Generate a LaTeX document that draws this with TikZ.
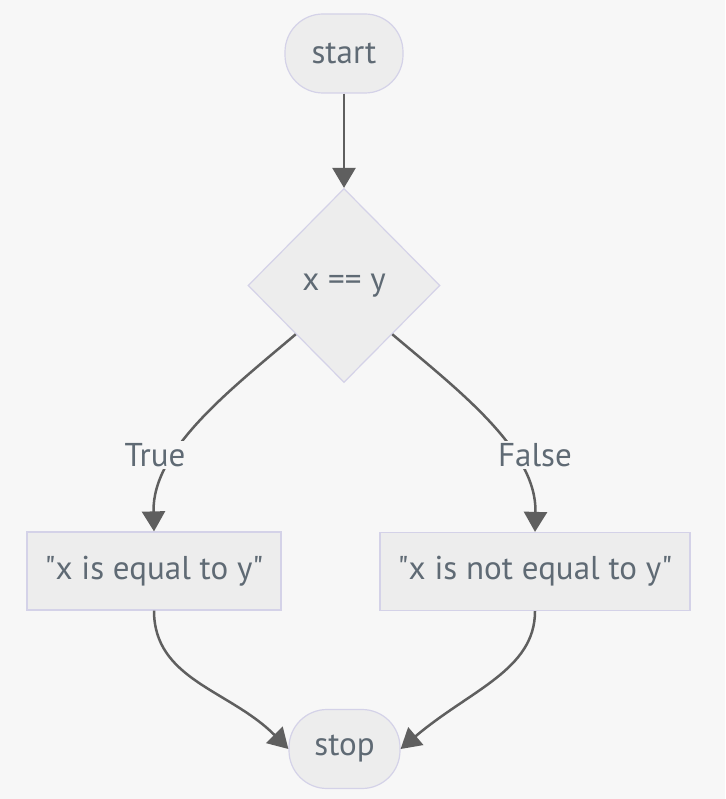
\documentclass[tikz,border=0pt]{standalone}
\usepackage{fontspec}
\setmainfont{PT Sans}
\usetikzlibrary{shapes.geometric,arrows.meta}
\definecolor{bg}{HTML}{F7F7F7}
\definecolor{nodefill}{HTML}{EDEDED}
\definecolor{nodeborder}{HTML}{D4D2E8}
\definecolor{txt}{HTML}{5F6A74}
\definecolor{edge}{HTML}{5F5F5F}
\tikzset{
  base/.style={draw=nodeborder, fill=nodefill, line width=1.2pt, text=txt, font=\fontsize{33}{38}\selectfont, inner sep=0pt},
  pill/.style={base, rounded corners=38pt, minimum width=118pt, minimum height=79pt},
  decision/.style={base, diamond, minimum width=192pt, minimum height=194pt, aspect=1},
  proc/.style={base, rectangle, minimum height=78pt},
  conn/.style={draw=edge, line width=2.5pt, -{Triangle[width=23pt,length=20pt]}},
  elabel/.style={fill=bg, text=txt, font=\fontsize{33}{38}\selectfont, inner sep=2pt}
}
\begin{document}
\begin{tikzpicture}[x=1pt,y=-1pt]
\fill[bg] (0,0) rectangle (725,799);
\useasboundingbox (0,0) rectangle (725,799);
\node[pill] (start) at (344,53.5) {start};
\node[decision] (dec) at (344,285.5) {x == y};
\node[proc, minimum width=254pt] (eq) at (154,571) {\textquotedbl x is equal to y\textquotedbl};
\node[proc, minimum width=310pt] (neq) at (535,571.5) {\textquotedbl x is not equal to y\textquotedbl};
\node[pill, minimum width=111pt] (stop) at (344.5,749) {stop};
\coordinate (tl) at (155,455);
\coordinate (fl) at (535,455);
\draw[conn] (start.south) -- (dec.north);
\draw[conn] (dec.south west) .. controls (230,390) and (152,450) .. (eq.north);
\draw[conn] (dec.south east) .. controls (458,390) and (537,450) .. (neq.north);
\draw[conn] (eq.south) .. controls (154,680) and (230,690) .. (stop.west);
\draw[conn] (neq.south) .. controls (535,670) and (470,690) .. (stop.east);
\node[elabel] (tlab) at (tl) {True};
\node[elabel] (flab) at (fl) {False};
\end{tikzpicture}
\end{document}
